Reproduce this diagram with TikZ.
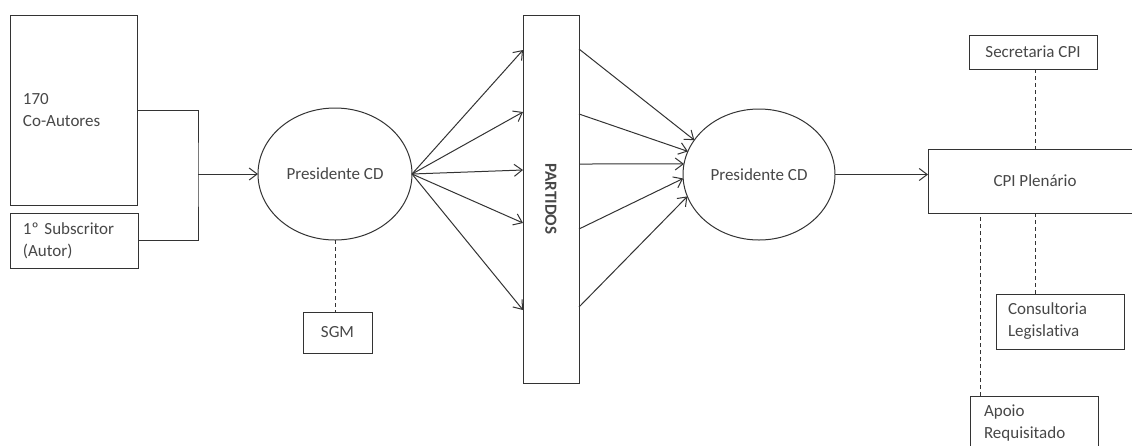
\documentclass[tikz,border=0pt]{standalone}
\usepackage{fontspec}
\setmainfont{Carlito}[Ligatures=NoCommon,Contextuals=NoAlternate]
\usetikzlibrary{shapes.geometric,arrows.meta,calc}
\begin{document}
\begin{tikzpicture}[x=1pt,y=-1pt,
  ln/.style={draw=black!80, line width=1pt},
  txt/.style={text=black!72, font=\fontsize{17}{22}\selectfont},
  box/.style={ln, txt, rectangle, inner sep=0pt, outer sep=0pt},
  lbox/.style={box, align=left, inner xsep=13pt, text width=#1},
  ell/.style={ln, txt, ellipse, inner sep=0pt, outer sep=0pt},
  arr/.style={ln, -{Straight Barb[length=8pt,width=12pt]}},
  dsh/.style={ln, dash pattern=on 4pt off 3pt}]
\useasboundingbox (0,0) rectangle (1132,445);
% nodes
\node[lbox=101pt, minimum height=190pt] (coaut) at (73.5,110) {170\\Co-Autores};
\node[lbox=102pt, minimum height=55pt] (subs) at (74,240.5) {1º Subscritor\\(Autor)};
\node[ell, minimum width=154pt, minimum height=132pt] (pres1) at (335,174) {Presidente CD};
\node[box, minimum width=69pt, minimum height=41pt] (sgm) at (337.5,332.5) {SGM};
\node[box, minimum width=56pt, minimum height=368pt] (part) at (551,199) {};
\node[txt, font=\fontsize{17}{22}\selectfont\bfseries, rotate=-90] (partlbl) at (part.center) {PARTIDOS};
\node[ell, minimum width=152pt, minimum height=131pt] (pres2) at (759,174.5) {Presidente CD};
\node[box, minimum width=214pt, minimum height=64pt] (cpi) at (1035,181) {CPI Plenário};
\node[box, minimum width=128pt, minimum height=34pt] (sec) at (1033,52) {Secretaria CPI};
\node[lbox=104pt, inner xsep=12pt, minimum height=55pt] (cons) at (1060,321.5) {Consultoria\\Legislat\kern0pt iva};
\node[lbox=100pt, inner xsep=14pt, minimum height=55pt] (apoio) at (1034,423.5) {Apoio\\Requisitado};
% connectors
\coordinate (join) at (198,174);
\draw[ln] (coaut.east) -| (join) |- (subs.east);
\draw[arr] (join) -- (pres1.west);
\draw[dsh] (pres1.south) -- (pres1.south |- sgm.north);
\foreach \y in {50,112,170,223,310}
  \draw[arr] (pres1.east) -- (part.west |- 0,\y);
\foreach \y/\a in {49/152,114/162,164/172,229/183,307/197}
  \draw[arr] (part.east |- 0,\y) -- (pres2.\a);
\draw[arr] (pres2.east) -- (cpi.west |- pres2.east);
\draw[dsh] (sec.south -| cpi.north) -- (cpi.north);
\draw[dsh] (cpi.south) -- (cpi.south |- cons.north);
\coordinate (apoiotop) at ($(apoio.north west)+(10,0)$);
\draw[dsh] (apoiotop) -- (apoiotop |- cpi.south);
\end{tikzpicture}
\end{document}
